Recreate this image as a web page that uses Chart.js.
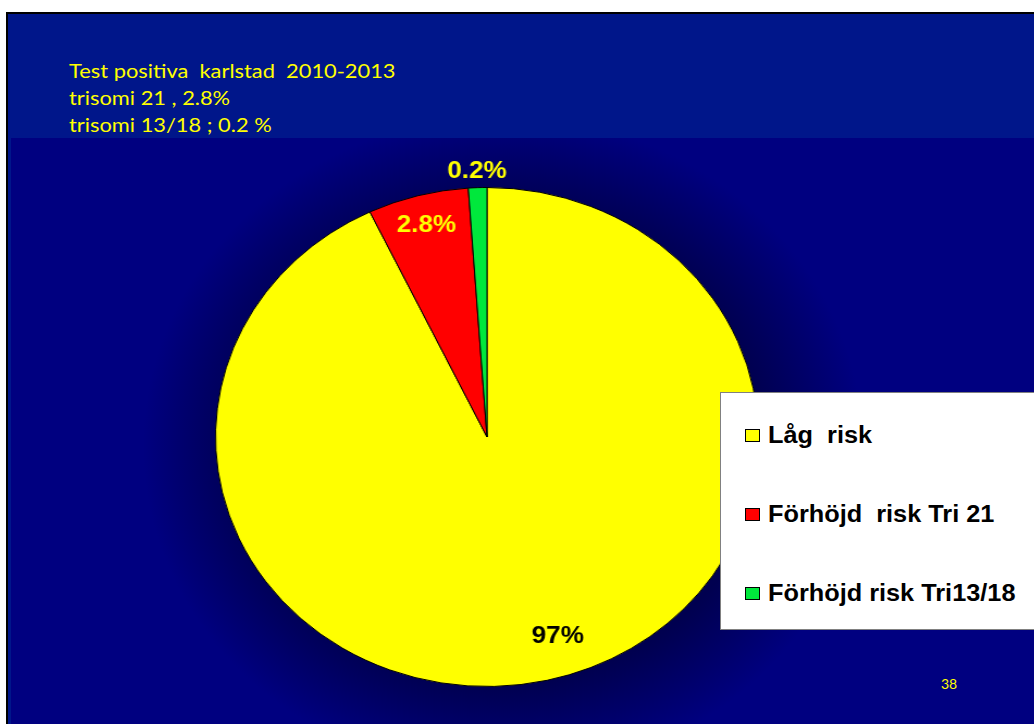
<!DOCTYPE html>
<html lang="sv">
<head>
  <meta charset="UTF-8" />
  <title>Test positiva karlstad 2010-2013</title>
  <script src="https://cdn.jsdelivr.net/npm/chart.js"></script>
  <style>
    html, body { margin: 0; padding: 0; background: #fff; }
    body { width: 1034px; height: 724px; position: relative; overflow: hidden; }
    .slide {
      position: absolute; left: 6px; top: 12px; width: 1040px; height: 720px;
      border-left: 2px solid #000; border-top: 2px solid #000;
      background:
        radial-gradient(ellipse 360px 330px at 495px 432px, #000048 0%, #000050 72%, rgba(0,0,128,0) 100%),
        #000080;
      overflow: hidden;
    }
    .band { position: absolute; left: 0; top: 0; width: 100%; height: 124px; background: #00168a; }
    .strip { position: absolute; left: 0; top: 0; width: 3px; height: 100%; background: #00168a; }
    .title {
      position: absolute; left: 61px; top: 43px; color: #ffff00;
      font-family: Lato, 'Open Sans', sans-serif; font-size: 19.5px; line-height: 27px;
      white-space: pre; transform: scaleX(1.12); transform-origin: left top;
    }
    .page { position: absolute; left: 933px; top: 661px; color: #ffff00; font-family: Lato, sans-serif; font-size: 14px; }
    #pie { position: absolute; left: 199px; top: 143px; transform: scaleX(1.088); transform-origin: 280px 280px; }
    .legend {
      position: absolute; left: 712px; top: 378px; width: 340px; height: 236px;
      background: #fff; border: 1px solid #808080;
    }
    .item { position: absolute; left: 24px; height: 30px; display: flex; align-items: center; }
    .item .box { width: 13px; height: 11px; border: 1px solid #000; margin-right: 8px; }
    .item .txt {
      font-family: 'Liberation Sans', Arial, sans-serif; font-weight: bold; font-size: 23px; color: #000;
      transform: scaleX(1.1); transform-origin: left center; white-space: pre;
    }
  </style>
</head>
<body>
  <div class="slide">
    <div class="band"></div>
    <div class="strip"></div>
    <div class="title">Test positiva  karlstad  2010-2013
trisomi 21 , 2.8%
trisomi 13/18 ; 0.2 %</div>
    <canvas id="pie" width="560" height="560"></canvas>
    <div class="legend" id="legend"></div>
    <div class="page">38</div>
  </div>

  <script>
    const categories = ['Låg  risk', 'Förhöjd  risk Tri 21', 'Förhöjd risk Tri13/18'];
    const sliceValues = [92.9, 6.0, 1.1];
    const pctLabels = ['97%', '2.8%', '0.2%'];
    const sliceColors = ['#ffff00', '#ff0000', '#00e83c'];

    // where each percentage sits: fraction of radius + angle shift (deg)
    const labelPlace = [
      { f: 0.84, da: -5.3, color: '#000000' },
      { f: 0.876, da: 0, color: '#ffff00' },
      { f: 1.065, da: 0, color: '#ffff00' }
    ];

    const pctPlugin = {
      id: 'pctLabels',
      afterDatasetsDraw(chart) {
        const ctx = chart.ctx;
        const arcs = chart.getDatasetMeta(0).data;
        ctx.save();
        ctx.font = 'bold 24px "Liberation Sans", Arial, sans-serif';
        ctx.textAlign = 'center';
        ctx.textBaseline = 'middle';
        arcs.forEach((arc, i) => {
          const p = labelPlace[i];
          const mid = (arc.startAngle + arc.endAngle) / 2 + p.da * Math.PI / 180;
          const r = arc.outerRadius * p.f;
          ctx.fillStyle = p.color;
          ctx.fillText(pctLabels[i], arc.x + Math.cos(mid) * r, arc.y + Math.sin(mid) * r);
        });
        ctx.restore();
      }
    };

    new Chart(document.getElementById('pie'), {
      type: 'pie',
      data: {
        labels: categories,
        datasets: [{
          data: sliceValues,
          backgroundColor: sliceColors,
          borderColor: '#000000',
          borderWidth: 1
        }]
      },
      options: {
        responsive: false,
        animation: false,
        layout: { padding: 30 },
        plugins: { legend: { display: false }, tooltip: { enabled: false } }
      },
      plugins: [pctPlugin]
    });

    const legend = document.getElementById('legend');
    const rowTops = [27, 106, 185];
    categories.forEach((name, i) => {
      const row = document.createElement('div');
      row.className = 'item';
      row.style.top = rowTops[i] + 'px';
      row.innerHTML = '<div class="box"></div><div class="txt"></div>';
      row.querySelector('.box').style.background = sliceColors[i];
      row.querySelector('.txt').textContent = name;
      legend.appendChild(row);
    });
  </script>
</body>
</html>
